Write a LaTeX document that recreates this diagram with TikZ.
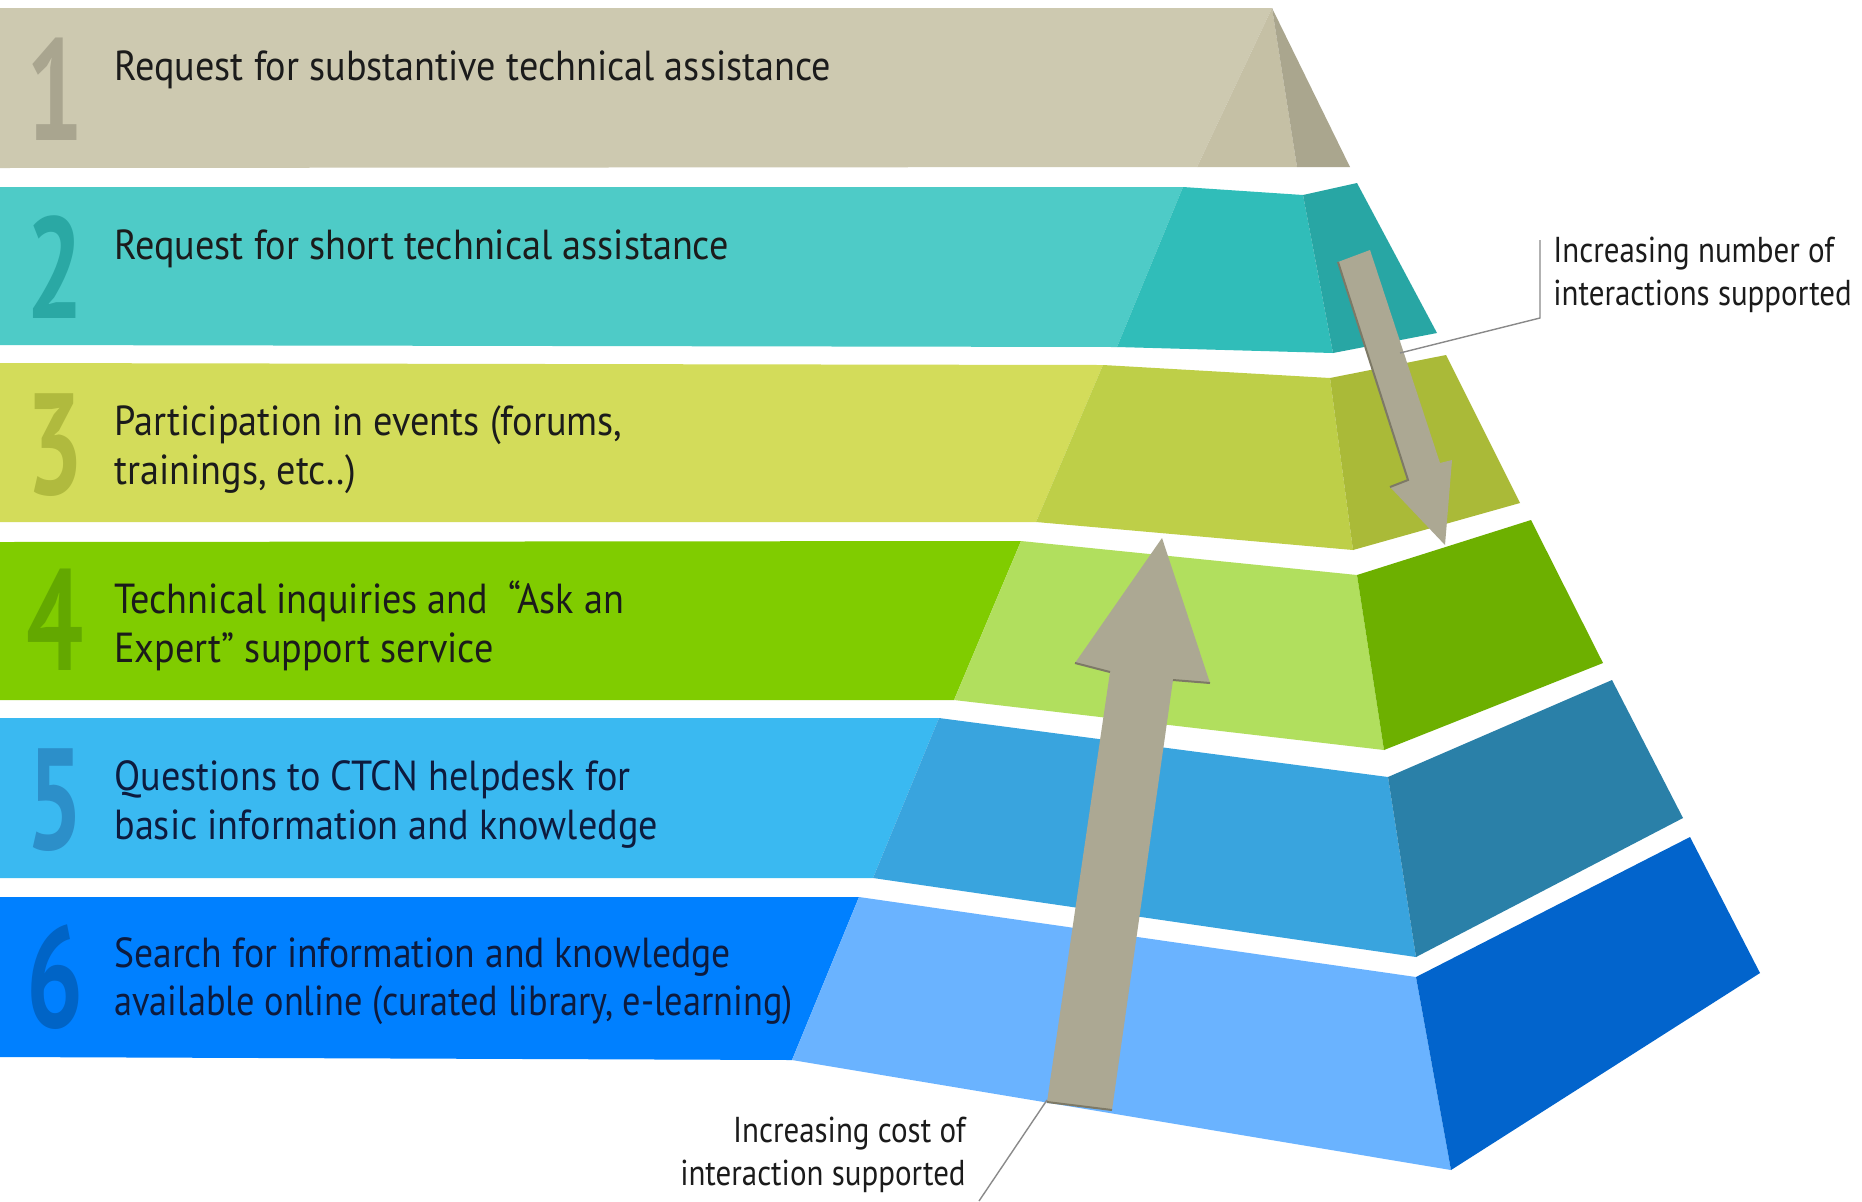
\documentclass[tikz,border=0pt]{standalone}
\usepackage{fontspec}
\usepackage{graphicx}
\setmainfont{PT Sans}[FakeStretch=0.91]
\newfontfamily\numfont{PT Sans}[FakeStretch=0.7]
\newfontfamily\lblfont{PT Sans}[FakeStretch=0.86]
\definecolor{b1}{HTML}{CDC9B0}\definecolor{f1}{HTML}{C5C0A5}\definecolor{s1}{HTML}{AAA68E}\definecolor{n1}{HTML}{A9A58F}
\definecolor{b2}{HTML}{4ECBC7}\definecolor{f2}{HTML}{30BDB9}\definecolor{s2}{HTML}{28A6A4}\definecolor{n2}{HTML}{2AA8A4}
\definecolor{b3}{HTML}{D3DC5A}\definecolor{f3}{HTML}{BECF48}\definecolor{s3}{HTML}{AABA38}\definecolor{n3}{HTML}{B0BA3E}
\definecolor{b4}{HTML}{80CC00}\definecolor{f4}{HTML}{B1DF5E}\definecolor{s4}{HTML}{6DB000}\definecolor{n4}{HTML}{63A800}
\definecolor{b5}{HTML}{3AB9F1}\definecolor{f5}{HTML}{39A4DE}\definecolor{s5}{HTML}{2A80A8}\definecolor{n5}{HTML}{2C8FC9}
\definecolor{b6}{HTML}{0080FF}\definecolor{f6}{HTML}{6AB3FF}\definecolor{s6}{HTML}{0264CC}\definecolor{n6}{HTML}{0064C6}
\definecolor{arrowc}{HTML}{ACA893}
\definecolor{arrowd}{HTML}{7D7966}
\definecolor{txtdark}{HTML}{1B1B1B}
\definecolor{txtnavy}{HTML}{0D1B3E}
\definecolor{leader}{HTML}{8A8A8A}
\tikzset{
  maintxt/.style={anchor=base west, inner sep=0pt, font=\fontsize{21}{25}\selectfont, text=txtdark},
  navytxt/.style={maintxt, text=txtnavy},
  numtxt/.style={anchor=base west, inner sep=0pt, font=\numfont\bfseries\fontsize{72}{72}\selectfont},
  lbltxt/.style={inner sep=0pt, font=\lblfont\fontsize{18}{21}\selectfont, text=txtdark},
  leaderline/.style={draw=leader, line width=0.7pt}
}
\begin{document}
\begin{tikzpicture}[x=0.5pt,y=-0.5pt]
\useasboundingbox (0,0) rectangle (1862,1201);
\fill[white] (0,0) rectangle (1862,1201);
% ---------- layer 1
\fill[b1] (0,8) -- (1272,8) -- (1197,167) -- (0,168) -- cycle;
\fill[f1] (1272,8) -- (1297,167) -- (1197,167) -- cycle;
\fill[s1] (1272,8) -- (1350,167) -- (1297,167) -- cycle;
% ---------- layer 2
\fill[b2] (0,187) -- (1183,187) -- (1117,347) -- (0,345) -- cycle;
\fill[f2] (1183,187) -- (1303,195) -- (1333,353) -- (1117,347) -- cycle;
\fill[s2] (1303,195) -- (1357,183) -- (1437,333) -- (1333,353) -- cycle;
% ---------- layer 3
\fill[b3] (0,363) -- (1103,365) -- (1036,522) -- (0,522) -- cycle;
\fill[f3] (1103,365) -- (1330,378) -- (1353,550) -- (1036,522) -- cycle;
\fill[s3] (1330,378) -- (1446,355) -- (1520,503) -- (1353,550) -- cycle;
% ---------- layer 4
\fill[b4] (0,542) -- (1021,541) -- (954,700) -- (0,700) -- cycle;
\fill[f4] (1021,541) -- (1357,575) -- (1384,750) -- (954,700) -- cycle;
\fill[s4] (1357,575) -- (1531,520) -- (1603,663) -- (1384,750) -- cycle;
% ---------- layer 5
\fill[b5] (0,718) -- (939,718) -- (873,878) -- (0,878) -- cycle;
\fill[f5] (939,718) -- (1388,777) -- (1416,957) -- (873,878) -- cycle;
\fill[s5] (1388,777) -- (1612,680) -- (1683,818) -- (1416,957) -- cycle;
% ---------- layer 6
\fill[b6] (0,897) -- (859,897) -- (792,1060) -- (0,1057) -- cycle;
\fill[f6] (859,897) -- (1416,977) -- (1451,1170) -- (792,1060) -- cycle;
\fill[s6] (1416,977) -- (1690,837) -- (1760,973) -- (1451,1170) -- cycle;
% ---------- arrows
\fill[arrowc] (1338,262) -- (1370,250) -- (1440,463) -- (1452,460) -- (1445,545) -- (1390,487) -- (1408,480) -- cycle;
\draw[arrowd, line width=1pt] (1338,262) -- (1408,480) -- (1390,487);
\fill[arrowc] (1047,1102) -- (1112,1110) -- (1173,680) -- (1210,683) -- (1162,538) -- (1075,663) -- (1110,672) -- cycle;
\draw[arrowd, line width=1pt] (1075,663) -- (1110,672);
\draw[arrowd, line width=1pt] (1173,680) -- (1210,683);
\draw[arrowd, line width=1pt] (1047,1102) -- (1112,1110);
% ---------- numbers
\node[numtxt, text=n1] (d1) at (26,140) {1};
\node[numtxt, text=n2] (d2) at (26,318) {2};
\node[numtxt, text=n3] (d3) at (26,494) {3};
\node[numtxt, text=n4] (d4) at (26,670) {4};
\node[numtxt, text=n5] (d5) at (26,849) {5};
\node[numtxt, text=n6] (d6) at (26,1027) {6};
% ---------- texts
\node[maintxt] (t1) at (114,80) {Request for substantive technical assistance};
\node[maintxt] (t2) at (114,259) {Request for short technical assistance};
\node[maintxt] (t3a) at (114,435) {Participation in events (forums,};
\node[maintxt] (t3b) at (114,484) {trainings, etc..)};
\node[maintxt] (t4a) at (114,613) {Technical inquiries and \ “Ask an};
\node[maintxt] (t4b) at (114,662) {Expert” support service};
\node[navytxt] (t5a) at (114,790) {Questions to CTCN helpdesk for};
\node[navytxt] (t5b) at (114,839) {basic information and knowledge};
\node[navytxt] (t6a) at (114,967) {\scalebox{0.985}[1]{Search for information and knowledge}};
\node[navytxt] (t6b) at (114,1015) {\scalebox{0.95}[1]{available online (curated library, e-learning)}};
% ---------- labels
\node[lbltxt, anchor=base west] (r1) at (1553,262) {Increasing number of};
\node[lbltxt, anchor=base west] (r2) at (1553,305) {interactions supported};
\node[lbltxt, anchor=base east] (c1) at (966,1142) {Increasing cost of};
\node[lbltxt, anchor=base east] (c2) at (966,1185) {interaction supported};
\coordinate (rl1) at (1400,353);
\coordinate (rl2) at (1540,318);
\coordinate (rl3) at (1540,240);
\draw[leaderline] (rl1) -- (rl2) -- (rl3);
\coordinate (cl1) at (1047,1100);
\coordinate (cl2) at (979,1201);
\draw[leaderline] (cl1) -- (cl2);
\end{tikzpicture}
\end{document}
